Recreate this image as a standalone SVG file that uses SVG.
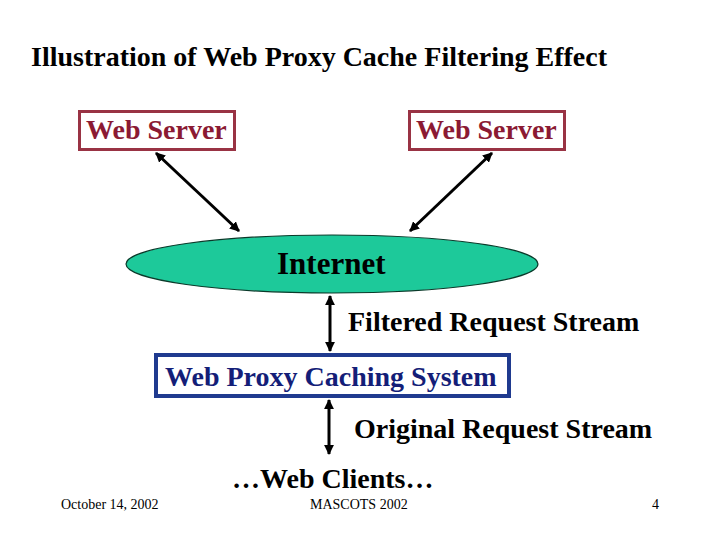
<svg xmlns="http://www.w3.org/2000/svg" width="720" height="540" viewBox="0 0 720 540">
<style>
.t{font-family:"Liberation Serif","Times New Roman",serif;font-weight:bold;font-size:28px;fill:#000}
.srv{fill:#8B1A33}
.px{fill:#141E78}
.ft{font-family:"Liberation Serif","Times New Roman",serif;font-size:14px;fill:#000}
.red{fill:#fff;stroke:#993344;stroke-width:3}
.line{stroke:#000;stroke-width:3;fill:none;marker-start:url(#ah);marker-end:url(#ah)}
</style>
<defs>
<marker id="ah" viewBox="0 0 10 10" refX="9" refY="5" markerWidth="3.3" markerHeight="3.3" orient="auto-start-reverse" markerUnits="strokeWidth">
<path d="M0,0 L10,5 L0,10 z" fill="#000"/>
</marker>
</defs>
<rect width="720" height="540" fill="#fff"/>
<text class="t" x="31" y="66">Illustration of Web Proxy Cache Filtering Effect</text>
<g id="server1">
<rect class="red" x="79.5" y="111.5" width="155" height="38"/>
<text class="t srv" x="86" y="139">Web Server</text>
</g>
<g id="server2">
<rect class="red" x="409.5" y="111.5" width="155" height="38"/>
<text class="t srv" x="416" y="139">Web Server</text>
</g>
<g id="internet">
<ellipse cx="332" cy="264" rx="206" ry="29" fill="#1DC99A" stroke="#0a3a2a" stroke-width="1.2"/>
<text class="t" x="277" y="274" style="font-size:31px">Internet</text>
</g>
<g id="proxy">
<rect x="156" y="355" width="353" height="41" fill="#fff" stroke="#1F3A8F" stroke-width="4"/>
<text class="t px" x="165" y="386">Web Proxy Caching System</text>
</g>
<g id="clients">
<text class="t" x="232" y="488">…Web Clients…</text>
</g>
<g id="connectors">
<line class="line" x1="156" y1="153" x2="239" y2="231"/>
<line class="line" x1="492" y1="153" x2="410" y2="231"/>
<line class="line" x1="330" y1="296" x2="330" y2="351"/>
<line class="line" x1="329" y1="400" x2="329" y2="454"/>
</g>
<text class="t" x="348" y="331">Filtered Request Stream</text>
<text class="t" x="354" y="438">Original Request Stream</text>
<text class="ft" x="61" y="509">October 14, 2002</text>
<text class="ft" x="310" y="509">MASCOTS 2002</text>
<text class="ft" x="652" y="509">4</text>
</svg>
